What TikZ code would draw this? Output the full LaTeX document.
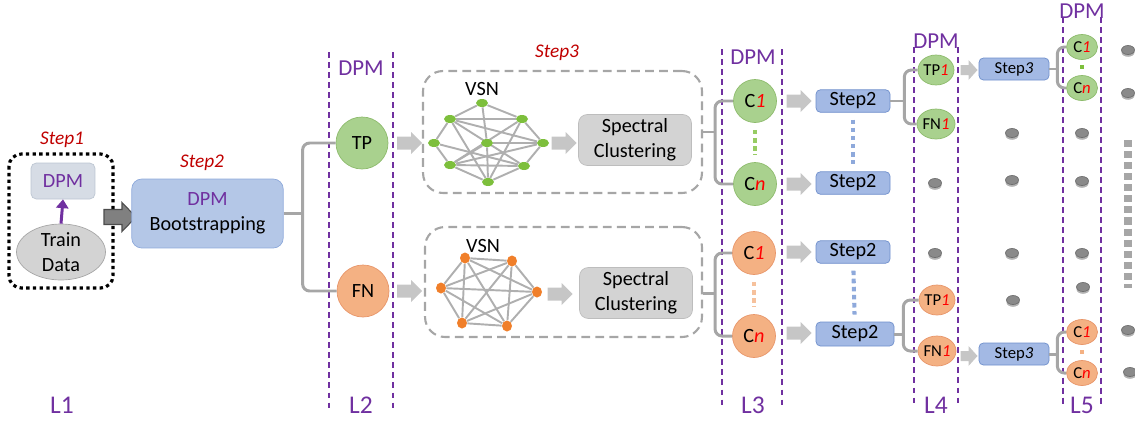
\documentclass[tikz,border=0pt]{standalone}
\usepackage{fontspec}
\setmainfont{Carlito}
\usepackage{xcolor}
\usetikzlibrary{shapes.geometric,arrows.meta,shadows,backgrounds}

\definecolor{dpmpurple}{HTML}{7030A0}
\definecolor{stepred}{HTML}{C00000}
\definecolor{numred}{HTML}{FF0000}
\definecolor{greenfill}{HTML}{A9D18E}
\definecolor{greenedge}{HTML}{8DBB6C}
\definecolor{greendot}{HTML}{7DBF3C}
\definecolor{orangefill}{HTML}{F4B183}
\definecolor{orangeedge}{HTML}{E8966A}
\definecolor{orangedot}{HTML}{F07F2A}
\definecolor{stepfill}{HTML}{A3B9E4}
\definecolor{stepedge}{HTML}{6F8FCC}
\definecolor{bootfill}{HTML}{B4C7E7}
\definecolor{bootedge}{HTML}{8EA9DB}
\definecolor{smallfill}{HTML}{D6DCE5}
\definecolor{smalledge}{HTML}{BCC5D2}
\definecolor{boxgrey}{HTML}{D3D3D3}
\definecolor{boxedge}{HTML}{BDBDBD}
\definecolor{arrowgrey}{HTML}{C6C6C6}
\definecolor{bracketgrey}{HTML}{A6A6A6}
\definecolor{dotgrey}{HTML}{8A8A8A}

\newcommand\idx[1]{\textcolor{numred}{\itshape #1}}

% block arrow: length / head width / shaft width / head length
\tikzset{pics/barr/.style args={#1/#2/#3/#4}{code={
  \path[pic actions] ({-#1/2},{-#3/2}) -- ({#1/2-#4},{-#3/2}) -- ({#1/2-#4},{-#2/2}) -- ({#1/2},0)
    -- ({#1/2-#4},{#2/2}) -- ({#1/2-#4},{#3/2}) -- ({-#1/2},{#3/2}) -- cycle;
}}}

\begin{document}
\begin{tikzpicture}[x=0.02cm,y=-0.02cm,
  lvl/.style={draw=dpmpurple,line width=0.9pt,dash pattern=on 3.4pt off 2.3pt},
  lname/.style={text=dpmpurple,font=\fontsize{14.5}{16}\selectfont},
  dpmname/.style={text=dpmpurple,font=\fontsize{13}{15}\selectfont},
  stepname/.style={text=stepred,font=\fontsize{11}{13}\selectfont\itshape},
  txt/.style={font=\fontsize{11.5}{14}\selectfont},
  gcirc/.style={circle,draw=greenedge,fill=greenfill,inner sep=0pt},
  ocirc/.style={circle,draw=orangeedge,fill=orangefill,inner sep=0pt},
  big/.style={minimum size=1.04cm,txt},
  mid/.style={minimum size=0.86cm,txt},
  small/.style={ellipse,minimum width=0.72cm,minimum height=0.6cm,font=\fontsize{9.5}{11}\selectfont},
  tiny/.style={ellipse,minimum width=0.62cm,minimum height=0.5cm,font=\fontsize{9.5}{11}\selectfont},
  stepbox/.style={draw=stepedge,fill=stepfill,rounded corners=2.5pt,minimum width=1.48cm,minimum height=0.45cm,inner sep=0pt,txt},
  scbox/.style={draw=boxedge,fill=boxgrey,rounded corners=5pt,minimum width=2.26cm,minimum height=1.02cm,align=center,inner sep=0pt,txt},
  vsnbox/.style={draw=bracketgrey,line width=1.2pt,dash pattern=on 5pt off 3pt,rounded corners=0.4cm,inner sep=0pt},
  garr/.style={fill=arrowgrey},
  bracket/.style={draw=bracketgrey,line width=1.7pt,rounded corners=4pt},
  vdot/.style={ellipse,inner sep=0pt,minimum width=0.24cm,minimum height=0.16cm},
  vedge/.style={draw=bracketgrey!90,line width=1.1pt},
  gdot/.style={ellipse,fill=dotgrey,draw=dotgrey!80!black,inner sep=0pt,minimum width=0.26cm,minimum height=0.18cm,
    drop shadow={shadow xshift=0pt,shadow yshift=-1.3pt,opacity=0.3,fill=black}},
  dotline/.style={line width=2.3pt,dash pattern=on 2.6pt off 2pt,shorten <=4pt,shorten >=4pt}
]
\useasboundingbox (0,0) rectangle (1135,423);

% level separators
\foreach \a/\b/\t/\u in {329/393/52/408, 722/782/49/405, 914/958/47/405, 1063/1101/17/407} {
  \draw[lvl] (\a,\t) -- (\a,\u);
  \draw[lvl] (\b,\t) -- (\b,\u);
}
\node[dpmname] (dpm2) at (361,68) {DPM};
\node[dpmname] (dpm3) at (753,57) {DPM};
\node[dpmname] (dpm4) at (936,41) {DPM};
\node[dpmname] (dpm5) at (1082,11) {DPM};
\foreach \n/\x in {1/62, 2/361, 3/753, 4/936, 5/1082}
  \node[lname] (lev\n) at (\x,405) {L\n};

% step 1
\draw[line width=1.8pt,dash pattern=on 1.9pt off 1.9pt,rounded corners=7pt] (9,154) rectangle (113,288);
\node[stepname] (step1) at (62,140) {Step1};
\node[draw=smalledge,fill=smallfill,rounded corners=3pt,minimum width=1.28cm,minimum height=0.72cm,text=dpmpurple,txt] (dpm1) at (63,181) {DPM};
\node[ellipse,draw=bracketgrey,fill=boxgrey,minimum width=1.78cm,minimum height=1.12cm,align=center,inner sep=0pt,txt] (train) at (61,252) {Train\\Data};
\draw[dpmpurple,line width=1.7pt,-{Triangle[length=5pt,width=7pt]}] (train.north) -- (dpm1.south);
\pic[draw=black!70,fill=black!50,line width=0.6pt] (darr) at (120,217) {barr=32/29/15/14};

% step 2
\node[stepname] (step2) at (202,163) {Step2};
\node[draw=bootedge,fill=bootfill,rounded corners=0.2cm,minimum width=3.03cm,minimum height=1.38cm,align=center,txt] (boot) at (207.5,213.5) {\textcolor{dpmpurple}{DPM}\\Bootstrapping};
\node[gcirc,big] (tp) at (362,143) {TP};
\node[ocirc,big] (fn) at (363,291) {FN};
\path (boot.east) ++(19,0) coordinate (bk1);
\draw[bracket] (boot.east) -- (bk1);
\draw[bracket] (tp.west) -| (bk1) |- (fn.west);
\pic[garr] (tparr) at (409.5,143) {barr=25/22/13/11};
\pic[garr] (fnarr) at (409.5,291) {barr=25/22/13/11};

% step 3
\node[stepname] (step3) at (557,53) {Step3};
\node[vsnbox,minimum width=5.58cm,minimum height=2.44cm] (vsn1) at (562.5,132) {};
\node[vsnbox,minimum width=5.54cm,minimum height=2.2cm] (vsn2) at (563.5,282) {};
\node[txt] (vsnlbl1) at (482,89) {VSN};
\node[txt] (vsnlbl2) at (483,246) {VSN};
\foreach \n/\x/\y in {t/482/103, ul/450/119, ur/522/119, l/434/143, c/487/143, r/543/143, ll/450/165, lr/524/166, b/488/182}
  \node[vdot,fill=greendot] (g\n) at (\x,\y) {};
\foreach \n/\x/\y in {a/465/258, b/512/261, c/441/288, d/537/292, e/462/323, f/507/326}
  \node[vdot,fill=orangedot,minimum width=0.2cm,minimum height=0.22cm] (o\n) at (\x,\y) {};
\begin{scope}[on background layer]
  \foreach \a/\b in {t/ul, t/ur, t/c, c/b, ul/ur, ul/l, ur/r, l/ll, r/lr, ll/b, lr/b, ul/r, ul/b, ul/lr,
                     ur/ll, ur/b, ll/r, l/lr, ll/lr, c/ll, c/r}
    \draw[vedge] (g\a) -- (g\b);
  \foreach \a/\b in {a/b, a/c, a/d, a/e, a/f, b/c, b/d, b/e, b/f, c/d, c/e, c/f, d/e, d/f, e/f}
    \draw[vedge] (o\a) -- (o\b);
\end{scope}
\pic[garr] (scarr1) at (564,143) {barr=25/22/13/11};
\pic[garr] (scarr2) at (560,294) {barr=25/22/13/11};
\node[scbox] (sc1) at (635,140) {Spectral\\Clustering};
\node[scbox] (sc2) at (636,293) {Spectral\\Clustering};

% level 3
\node[gcirc,mid] (c1g) at (755,101) {C\idx{1}};
\node[gcirc,mid] (cng) at (755,184) {C\idx{n}};
\node[ocirc,mid] (c1o) at (754,253) {C\idx{1}};
\node[ocirc,mid] (cno) at (754,336) {C\idx{n}};
\path (vsn1.east) ++(12,0) coordinate (bk2);
\path (vsn2.east |- sc2.east) ++(12,0) coordinate (bk3);
\draw[bracket] (vsn1.east) -- (bk2);
\draw[bracket] (c1g.west) -| (bk2) |- (cng.west);
\draw[bracket] (vsn2.east |- sc2.east) -- (bk3);
\draw[bracket] (c1o.west) -| (bk3) |- (cno.west);
\draw[dotline,draw=greendot!80!white] (c1g) -- (cng);
\draw[dotline,draw=orangefill!80!white] (c1o) -- (cno);
\foreach \n/\y in {a/101, b/184, c/252, d/333}
  \pic[garr] (arr\n) at (799,\y) {barr=25/22/13/11};
\node[stepbox] (s2a) at (853,101) {Step2};
\node[stepbox] (s2b) at (853,183) {Step2};
\node[stepbox] (s2c) at (853,252) {Step2};
\node[stepbox,minimum width=1.56cm,minimum height=0.48cm] (s2d) at (855,334) {Step2};
\draw[dotline,draw=bootedge] (s2a) -- (s2b);
\draw[dotline,draw=bootedge] (s2c) -- (s2d);

% level 4
\node[gcirc,small] (tp1g) at (936,70) {TP\idx{1}};
\node[gcirc,small] (fn1g) at (936,124) {FN\idx{1}};
\node[ocirc,small] (tp1o) at (937,300) {TP\idx{1}};
\node[ocirc,small] (fn1o) at (937,351) {FN\idx{1}};
\path (s2a.east) ++(14,0) coordinate (bk4);
\path (s2d.east) ++(9,0) coordinate (bk5);
\draw[bracket] (s2a.east) -- (bk4);
\draw[bracket] (tp1g.west) -| (bk4) |- (fn1g.west);
\draw[bracket] (s2d.east) -- (bk5);
\draw[bracket] (tp1o.west) -| (bk5) |- (fn1o.west);
\pic[garr] (arre) at (969,70) {barr=17/20/10/9};
\pic[garr] (arrf) at (969,356) {barr=17/20/10/9};
\node[stepbox,minimum width=1.4cm,minimum height=0.44cm,font=\fontsize{9.5}{11}\selectfont] (s3a) at (1014,69) {Step\textit{3}};
\node[stepbox,minimum width=1.4cm,minimum height=0.44cm,font=\fontsize{9.5}{11}\selectfont] (s3b) at (1014,354) {Step\textit{3}};

% level 5
\node[gcirc,tiny] (c1gs) at (1082,47) {C\idx{1}};
\node[gcirc,tiny] (cngs) at (1082,88) {C\idx{n}};
\node[ocirc,tiny] (c1os) at (1082,332) {C\idx{1}};
\node[ocirc,tiny] (cnos) at (1082,373) {C\idx{n}};
\path (s3a.east) ++(8,0) coordinate (bk6);
\path (s3b.east) ++(8,0) coordinate (bk7);
\draw[bracket] (s3a.east) -- (bk6);
\draw[bracket] (c1gs.west) -| (bk6) |- (cngs.west);
\draw[bracket] (s3b.east) -- (bk7);
\draw[bracket] (c1os.west) -| (bk7) |- (cnos.west);
\fill[greendot] (1080,65) rectangle (1084,69);
\fill[orangefill] (1080,350) rectangle (1084,354);

% remaining branches
\foreach \x/\y [count=\i] in {935/183, 935/253, 1012/133, 1012/180, 1012/253, 1013/300,
                              1082/133, 1082/181, 1082/253, 1083/287,
                              1128/50, 1128/93, 1128/330, 1130/372}
  \node[gdot] (d\i) at (\x,\y) {};
\draw[bracketgrey,line width=4.5pt,dash pattern=on 4pt off 2.3pt] (1128,140) -- (1128,288);
\end{tikzpicture}
\end{document}
